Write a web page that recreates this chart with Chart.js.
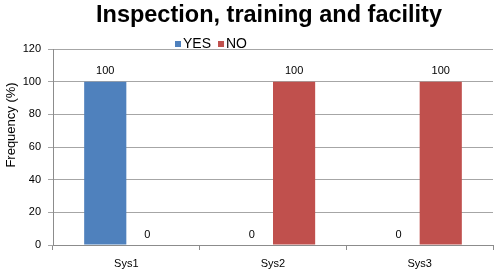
<!DOCTYPE html>
<html>
<head>
<meta charset="utf-8">
<script src="https://cdn.jsdelivr.net/npm/chart.js@4"></script>
<style>
    html, body { margin: 0; padding: 0; background: #fff; }
    #wrap { width: 500px; height: 276px; }
</style>
</head>
<body>
<div id="wrap"><canvas id="chart" width="500" height="276"></canvas></div>
<script>
var chartTitle = 'Inspection, training and facility';
var yTitle = 'Frequency (%)';
var categories = ['Sys1', 'Sys2', 'Sys3'];
var seriesNames = ['YES', 'NO'];
var yesValues = [100, 0, 0];
var noValues = [0, 100, 100];
var yTicks = [0, 20, 40, 60, 80, 100, 120];

var FONT = '"Liberation Sans", Arial, sans-serif';

// title, legend and axis title drawn by hand so they sit where Excel put them
var decorPlugin = {
    id: 'decor',
    afterDraw: function (chart) {
        var ctx = chart.ctx;
        ctx.save();

        ctx.fillStyle = '#000';
        ctx.font = 'bold 23.5px ' + FONT;
        ctx.textAlign = 'center';
        ctx.textBaseline = 'middle';
        ctx.fillText(chartTitle, 269, 16);

        ctx.font = '13px ' + FONT;
        ctx.translate(11, 125);
        ctx.rotate(-Math.PI / 2);
        ctx.fillText(yTitle, 0, 0);
        ctx.restore();

        ctx.save();
        ctx.font = '14px ' + FONT;
        ctx.textBaseline = 'middle';
        ctx.textAlign = 'left';
        var x = 175;
        chart.data.datasets.forEach(function (ds) {
            ctx.fillStyle = ds.backgroundColor;
            ctx.fillRect(x, 41, 6, 6);
            ctx.fillStyle = '#000';
            ctx.fillText(ds.label, x + 8, 44.5);
            x += 8 + ctx.measureText(ds.label).width + 7;
        });
        ctx.restore();
    }
};

var valueLabelPlugin = {
    id: 'valueLabels',
    afterDatasetsDraw: function (chart) {
        var ctx = chart.ctx;
        ctx.save();
        ctx.font = '11px ' + FONT;
        ctx.fillStyle = '#000';
        ctx.textAlign = 'center';
        ctx.textBaseline = 'bottom';
        chart.data.datasets.forEach(function (ds, i) {
            chart.getDatasetMeta(i).data.forEach(function (bar, j) {
                ctx.fillText(String(ds.data[j]), bar.x, bar.y - 5);
            });
        });
        ctx.restore();
    }
};

var myChart = new Chart(document.getElementById('chart').getContext('2d'), {
    type: 'bar',
    data: {
        labels: categories,
        datasets: [{
            label: seriesNames[0],
            data: yesValues,
            backgroundColor: '#4F81BD',
            categoryPercentage: 0.575,
            barPercentage: 1
        }, {
            label: seriesNames[1],
            data: noValues,
            backgroundColor: '#C0504D',
            categoryPercentage: 0.575,
            barPercentage: 1
        }]
    },
    options: {
        responsive: false,
        animation: false,
        layout: { padding: { left: 0, right: 7, top: 49, bottom: 0 } },
        plugins: {
            legend: { display: false },
            title: { display: false },
            tooltip: { enabled: false }
        },
        scales: {
            x: {
                grid: {
                    offset: true,
                    drawOnChartArea: false,
                    tickLength: 5,
                    color: '#8c8c8c'
                },
                border: { color: '#8c8c8c' },
                ticks: {
                    color: '#000',
                    font: { family: FONT, size: 11 },
                    padding: 7
                },
                afterFit: function (scale) { scale.height = 31; }
            },
            y: {
                min: 0,
                max: 120,
                afterBuildTicks: function (scale) {
                    scale.ticks = yTicks.map(function (v) { return { value: v }; });
                },
                grid: {
                    color: '#a6a6a6',
                    tickLength: 5
                },
                border: { color: '#8c8c8c' },
                ticks: {
                    color: '#000',
                    font: { family: FONT, size: 11 },
                    padding: 7
                },
                afterFit: function (scale) { scale.width = 53; }
            }
        }
    },
    plugins: [decorPlugin, valueLabelPlugin]
});
</script>
</body>
</html>
